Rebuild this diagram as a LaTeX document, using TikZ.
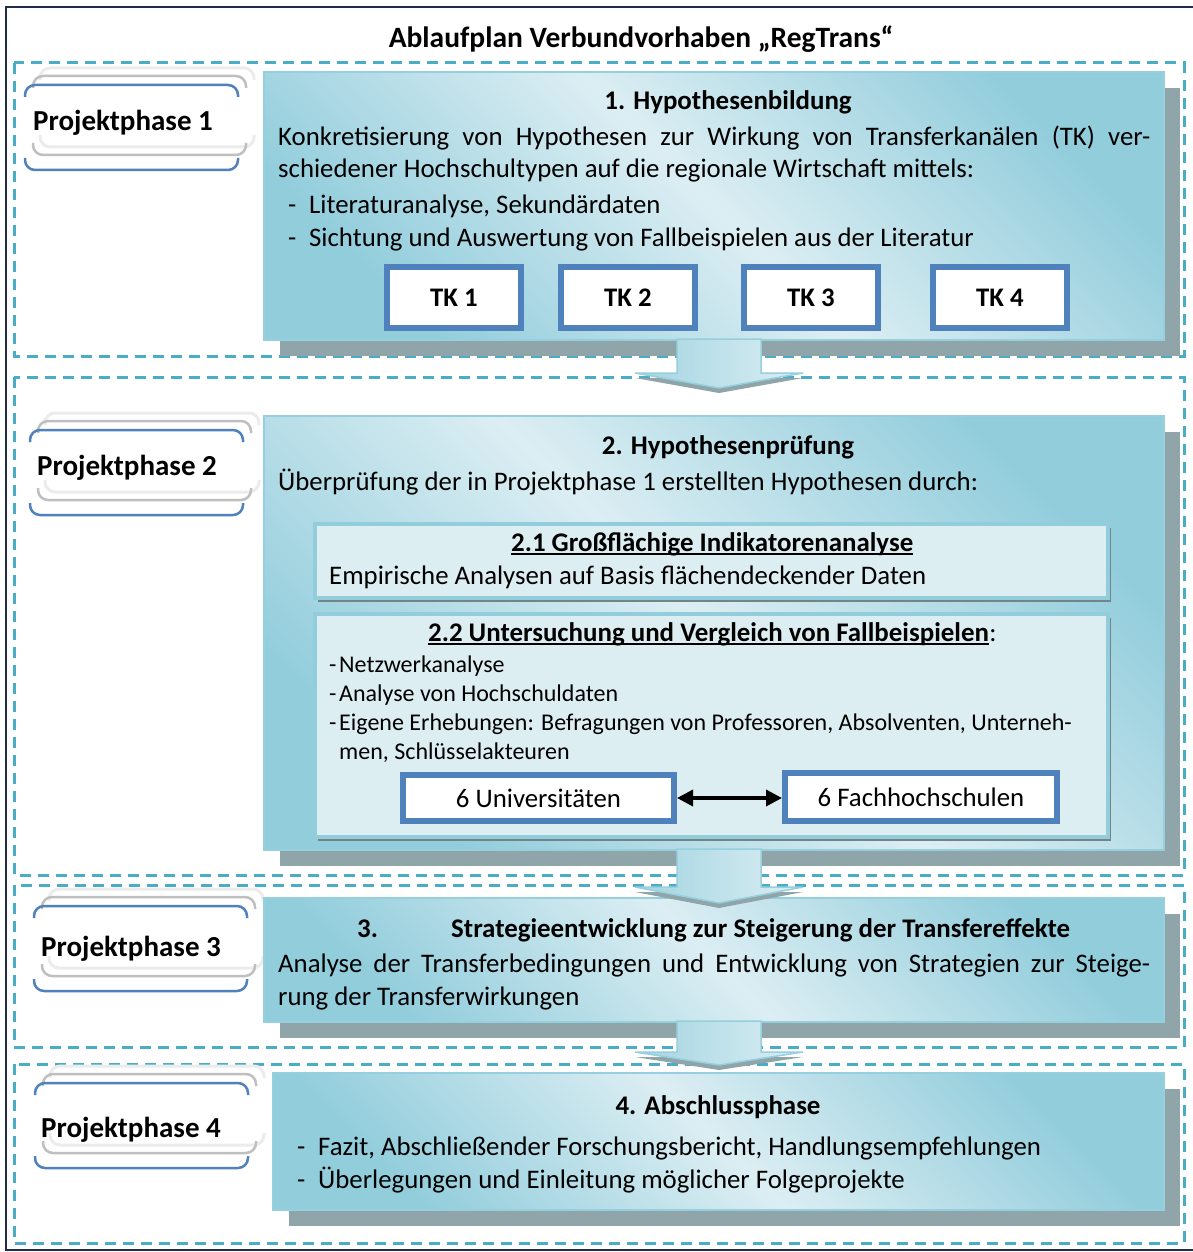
\documentclass[tikz,border=0pt]{standalone}
\usepackage{fontspec}
\setmainfont{Carlito}
\usetikzlibrary{shadows,arrows.meta}

\definecolor{framenavy}{RGB}{31,45,72}
\definecolor{dashblue}{RGB}{75,172,198}
\definecolor{boxdark}{RGB}{146,205,220}
\definecolor{boxlight}{RGB}{220,238,243}
\definecolor{boxline}{RGB}{150,207,221}
\definecolor{shadowgray}{RGB}{143,165,170}
\definecolor{tkblue}{RGB}{79,129,189}
\definecolor{subfill}{RGB}{221,238,243}
\definecolor{labelgray}{RGB}{191,191,191}
\definecolor{labellight}{RGB}{236,236,236}

\tikzstyle{phasearea} = [draw=dashblue, line width=3pt, dash pattern=on 11pt off 7pt]
\tikzstyle{stepcard} = [draw=boxline, line width=1.5pt, top color=boxdark, bottom color=boxdark, middle color=boxlight, shading angle=-45, drop shadow={shadow xshift=16pt, shadow yshift=-16pt, fill=shadowgray, opacity=1}]
\tikzstyle{subcard} = [draw=boxdark, line width=4pt, fill=subfill, drop shadow={shadow xshift=3pt, shadow yshift=-4pt, fill=shadowgray!80!black, opacity=1}]
\tikzstyle{tkbox} = [draw=tkblue, line width=6pt, fill=white, font=\fontsize{26.8}{30}\selectfont\bfseries]
\tikzstyle{groupbox} = [draw=tkblue, line width=6pt, fill=white, font=\fontsize{26.8}{30}\selectfont]
\tikzstyle{bodytext} = [inner sep=0pt, font=\fontsize{26.8}{32}\selectfont]
\tikzstyle{headtext} = [inner sep=0pt, font=\fontsize{26.9}{32}\selectfont\bfseries]
\tikzstyle{titletext} = [inner sep=0pt, font=\fontsize{29.5}{34}\selectfont\bfseries]
\tikzstyle{smalltext} = [inner sep=0pt, font=\fontsize{24}{28}\selectfont]
\tikzstyle{phasetext} = [inner sep=0pt, font=\fontsize{29}{34}\selectfont\bfseries]
\tikzstyle{flowarrow} = [draw=boxline, line width=1.5pt, left color=boxdark!85, right color=boxlight]

% stacked outline behind a phase label: x, y of the front (blue) frame
\newcommand{\phaseframe}[2]{%
  \draw[labellight, line width=3pt, rounded corners=10pt]
    (#1+15,#2-5) -- (#1+15,#2-17) -- (#1+229,#2-17) -- (#1+229,#2-5)
    (#1+15,#2+50) -- (#1+15,#2+62) -- (#1+229,#2+62) -- (#1+229,#2+50);
  \draw[labelgray, line width=2.5pt, rounded corners=10pt]
    (#1+8,#2+3) -- (#1+8,#2-9) -- (#1+221,#2-9) -- (#1+221,#2+3)
    (#1+8,#2+58) -- (#1+8,#2+70) -- (#1+221,#2+70) -- (#1+221,#2+58);
  \draw[tkblue, line width=2.5pt, rounded corners=10pt]
    (#1,#2+12) -- (#1,#2) -- (#1+213,#2) -- (#1+213,#2+12)
    (#1,#2+73) -- (#1,#2+85) -- (#1+213,#2+85) -- (#1+213,#2+73);}

% block arrow between two phases: top of shaft, top of head, tip
\newcommand{\phasearrow}[3]{%
  \fill[shadowgray] (635,#2+5) -- (719,#3+5) -- (803,#2+5) -- cycle;
  \path[flowarrow] (677,#1) -- (677,#2) -- (635,#2) -- (719,#3) -- (803,#2) -- (761,#2) -- (761,#1) -- cycle;}

\begin{document}
\begin{tikzpicture}[x=1pt,y=-1pt]
	\useasboundingbox (0,0) rectangle (1192,1252);
	\fill[white] (0,0) rectangle (1192,1252);
	\draw[framenavy, line width=2pt] (6,7) rectangle (1198,1250);

	\node[titletext] (title) at (641,48) [anchor=base] {Ablaufplan Verbundvorhaben „RegTrans“};

	% dashed phase areas
	\draw[phasearea] (14,63) rectangle (1184,356);
	\draw[phasearea] (14,377) rectangle (1184,875);
	\draw[phasearea] (14,885) rectangle (1184,1047);
	\draw[phasearea] (14,1064) rectangle (1184,1243);

	% phase labels
	\phaseframe{25}{85}
	\phaseframe{30}{430}
	\phaseframe{34}{906}
	\phaseframe{35}{1083}
	\node[phasetext, anchor=base west] (p1) at (33,131) {Projektphase 1};
	\node[phasetext, anchor=base west] (p2) at (37,475) {Projektphase 2};
	\node[phasetext, anchor=base west] (p3) at (41,956) {Projektphase 3};
	\node[phasetext, anchor=base west] (p4) at (41,1137) {Projektphase 4};

	% phase 1
	\node[stepcard, minimum width=900pt, minimum height=268pt] (hyp) at (714,206) {};
	\node[headtext, anchor=base] (hypt) at (728,110) {1. Hypothesenbildung};
	\node[bodytext, anchor=base west] (hypa) at (278,146) {\makebox[872pt][s]{Konkretisierung von Hypothesen zur Wirkung von Transferkanälen (TK) ver-}};
	\node[bodytext, anchor=base west] (hypb) at (278,178) {schiedener Hochschultypen auf die regionale Wirtschaft mittels:};
	\node[bodytext, anchor=base west] (hypc) at (288,214) {\makebox[21pt][l]{-}Literaturanalyse, Sekundärdaten};
	\node[bodytext, anchor=base west] (hypd) at (288,246) {\makebox[21pt][l]{-}Sichtung und Auswertung von Fallbeispielen aus der Literatur};
	\node[tkbox, minimum width=134pt, minimum height=61pt] (tk1) at (454,297.5) {TK 1};
	\node[tkbox, minimum width=134pt, minimum height=61pt] (tk2) at (628,297.5) {TK 2};
	\node[tkbox, minimum width=134pt, minimum height=61pt] (tk3) at (811,297.5) {TK 3};
	\node[tkbox, minimum width=134pt, minimum height=61pt] (tk4) at (1000,297.5) {TK 4};

	% phase 2
	\node[stepcard, minimum width=900pt, minimum height=434pt] (test) at (714,633) {};
	\node[headtext, anchor=base] (testt) at (728,454) {2. Hypothesenprüfung};
	\node[bodytext, anchor=base west] (testa) at (278,490) {Überprüfung der in Projektphase 1 erstellten Hypothesen durch:};
	\node[subcard, minimum width=793pt, minimum height=74pt] (ind) at (711.5,561) {};
	\node[headtext, anchor=base west] (indt) at (511,551) {2.1 Großflächige Indikatorenanalyse};
	\draw[line width=1.8pt] ([yshift=-3pt]indt.base west) -- ([yshift=-3pt]indt.base east);
	\node[bodytext, anchor=base west] (inda) at (329,584) {Empirische Analysen auf Basis flächendeckender Daten};
	\node[subcard, minimum width=793pt, minimum height=223pt] (cases) at (711.5,725.5) {};
	\node[headtext, anchor=base west] (casest) at (428,641) {2.2 Untersuchung und Vergleich von Fallbeispielen};
	\node[bodytext, anchor=base west] (casesc) at (casest.base east) {:};
	\draw[line width=1.8pt] ([yshift=-3pt]casest.base west) -- ([yshift=-3pt]casest.base east);
	\node[smalltext, anchor=base west] (casesa) at (329,672) {\makebox[10pt][l]{-}Netzwerkanalyse};
	\node[smalltext, anchor=base west] (casesb) at (329,701) {\makebox[10pt][l]{-}Analyse von Hochschuldaten};
	\node[smalltext, anchor=base west] (casesc2) at (329,730) {\makebox[10pt][l]{-}Eigene Erhebungen: Befragungen von Professoren, Absolventen, Unterneh-};
	\node[smalltext, anchor=base west] (casesd) at (339,759) {men, Schlüsselakteuren};
	\node[groupbox, minimum width=271pt, minimum height=46pt] (uni) at (538.5,798) {6 Universitäten};
	\node[groupbox, minimum width=272pt, minimum height=48pt] (fh) at (921,797) {6 Fachhochschulen};
	\draw[{Triangle[length=16pt,width=16pt]}-{Triangle[length=16pt,width=16pt]}, line width=3.5pt] (uni.east) -- (fh.west |- uni.east);

	% phase 3
	\node[stepcard, minimum width=900pt, minimum height=124pt] (strat) at (714,960) {};
	\node[headtext, anchor=base west] (stratn) at (357,937) {3.};
	\node[headtext, anchor=base west] (stratt) at (451,937) {Strategieentwicklung zur Steigerung der Transfereffekte};
	\node[bodytext, anchor=base west] (strata) at (278,972) {\makebox[872pt][s]{Analyse der Transferbedingungen und Entwicklung von Strategien zur Steige-}};
	\node[bodytext, anchor=base west] (stratb) at (278,1005) {rung der Transferwirkungen};

	% phase 4
	\node[stepcard, minimum width=891pt, minimum height=137pt] (final) at (718.5,1141.5) {};
	\node[headtext, anchor=base] (finalt) at (718,1114) {4. Abschlussphase};
	\node[bodytext, anchor=base west] (finala) at (297,1155) {\makebox[21pt][l]{-}Fazit, Abschließender Forschungsbericht, Handlungsempfehlungen};
	\node[bodytext, anchor=base west] (finalb) at (297,1188) {\makebox[21pt][l]{-}Überlegungen und Einleitung möglicher Folgeprojekte};

	% arrows between phases
	\phasearrow{339}{373}{388}
	\phasearrow{849}{887}{903}
	\phasearrow{1021}{1052}{1065}
\end{tikzpicture}
\end{document}
